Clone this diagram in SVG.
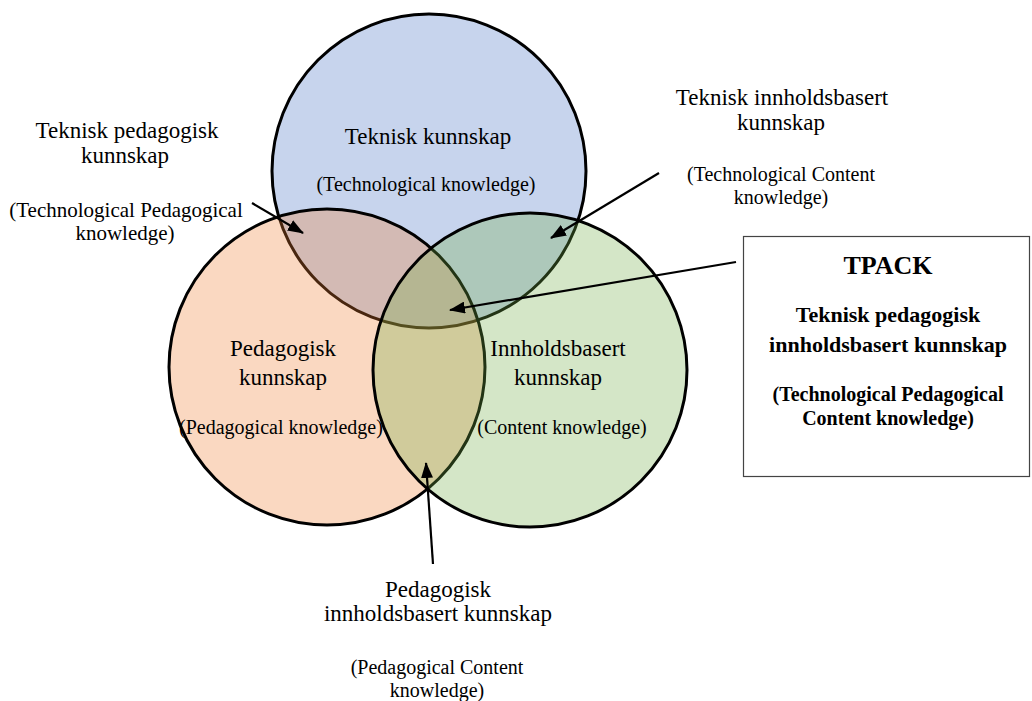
<svg xmlns="http://www.w3.org/2000/svg" width="1032" height="701" viewBox="0 0 1032 701">
<defs>
<style>
.c{stroke:#000;stroke-width:3}
.t{font-family:"Liberation Serif","Times New Roman",serif;fill:#000;text-anchor:middle}
.m{font-size:23px}
.p{font-size:20px}
.b{font-weight:bold}
.a{stroke:#000;stroke-width:2.2;fill:none;marker-end:url(#ah)}
</style>
<marker id="ah" markerUnits="userSpaceOnUse" markerWidth="16" markerHeight="12" refX="15" refY="6" orient="auto">
<path d="M0,0 L16,6 L0,12 z" fill="#000"/>
</marker>
</defs>
<rect width="1032" height="701" fill="#fff"/>
<g id="circle-technical">
<circle class="c" cx="429" cy="171" r="157" fill="#4472C4" fill-opacity="0.3"/>
</g>
<g id="circle-pedagogical">
<circle class="c" cx="327" cy="367" r="158" fill="#ED7D31" fill-opacity="0.3"/>
</g>
<g id="circle-content">
<circle class="c" cx="530" cy="370" r="157" fill="#70AD47" fill-opacity="0.3"/>
</g>
<g id="label-tk">
<text class="t m" x="428" y="144">Teknisk kunnskap</text>
<text class="t p" x="426" y="191">(Technological knowledge)</text>
</g>
<g id="label-pk">
<text class="t m" x="283" y="356">Pedagogisk</text>
<text class="t m" x="283" y="385">kunnskap</text>
<text class="t p" x="281" y="434">(Pedagogical knowledge)</text>
</g>
<g id="label-ck">
<text class="t m" x="558" y="356">Innholdsbasert</text>
<text class="t m" x="558" y="385">kunnskap</text>
<text class="t p" x="562" y="434">(Content knowledge)</text>
</g>
<g id="label-tpk">
<text class="t m" x="127" y="138">Teknisk pedagogisk</text>
<text class="t m" x="125" y="163">kunnskap</text>
<text class="t" x="126" y="217" font-size="21">(Technological Pedagogical</text>
<text class="t" x="125" y="240" font-size="21">knowledge)</text>
</g>
<g id="label-tck">
<text class="t m" x="782" y="105">Teknisk innholdsbasert</text>
<text class="t m" x="781" y="130">kunnskap</text>
<text class="t p" x="781" y="181">(Technological Content</text>
<text class="t p" x="781" y="204">knowledge)</text>
</g>
<g id="label-pck">
<text class="t m" x="438" y="597">Pedagogisk</text>
<text class="t m" x="438" y="621">innholdsbasert kunnskap</text>
<text class="t p" x="437" y="674">(Pedagogical Content</text>
<text class="t p" x="437" y="697">knowledge)</text>
</g>
<g id="tpack-box">
<rect x="743.5" y="236.5" width="286" height="240" fill="#fff" stroke="#444" stroke-width="1.2"/>
<text class="t b" x="888" y="274" font-size="26">TPACK</text>
<text class="t b" x="888" y="322" font-size="22">Teknisk pedagogisk</text>
<text class="t b" x="888" y="352" font-size="22">innholdsbasert kunnskap</text>
<text class="t b" x="888" y="401" font-size="20">(Technological Pedagogical</text>
<text class="t b" x="888" y="425" font-size="20">Content knowledge)</text>
</g>
<g id="connectors">
<line class="a" x1="252" y1="203" x2="303" y2="233"/>
<line class="a" x1="659" y1="173" x2="551" y2="238"/>
<line class="a" x1="736" y1="262" x2="450" y2="310"/>
<line class="a" x1="433" y1="564" x2="426" y2="463"/>
</g>
</svg>
